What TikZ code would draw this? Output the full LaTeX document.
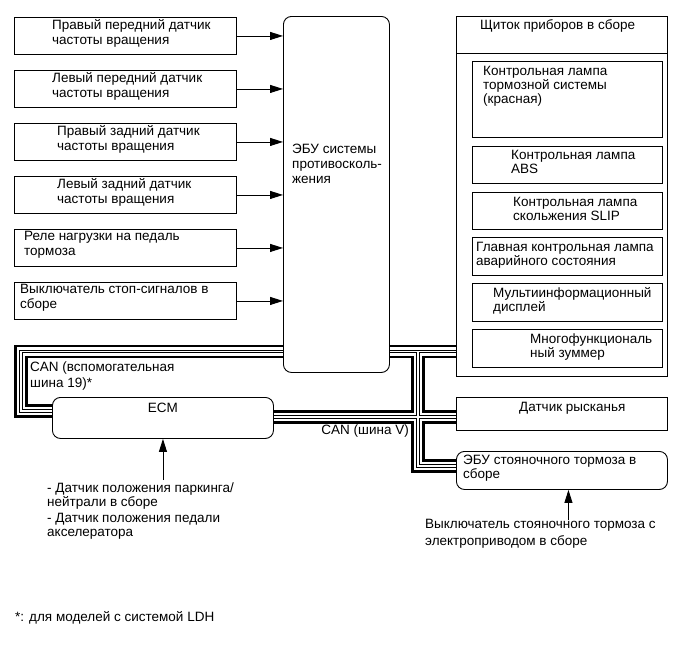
\documentclass[tikz,border=0pt]{standalone}
\usepackage{fontspec}
\setmainfont{Liberation Sans}
\usetikzlibrary{arrows.meta,positioning}

\begin{document}
\begin{tikzpicture}[
      x=1pt, y=-1pt,
      every node/.style={font=\fontsize{13.5}{15}\selectfont},
      box/.style={draw, line width=0.9pt, rectangle, inner sep=0pt, anchor=north west},
      rbox/.style={box, rounded corners=8pt},
      txt/.style={anchor=north west, inner sep=0pt, align=left},
      ctxt/.style={txt, font=\fontsize{13.5}{14}\selectfont},
      sig/.style={line width=0.9pt, -{Triangle[length=13pt,width=8pt]}}
    ]
    \useasboundingbox (0,0) rectangle (689,659);
    % входные датчики и выключатели
    \node[box, minimum width=222pt, minimum height=37pt] (wsfr) at (14,17) {};
    \node[box, minimum width=222pt, minimum height=37pt] (wsfl) at (14,70) {};
    \node[box, minimum width=222pt, minimum height=37pt] (wsrr) at (14,123) {};
    \node[box, minimum width=222pt, minimum height=37pt] (wsrl) at (14,176) {};
    \node[box, minimum width=222pt, minimum height=37pt] (bpr)  at (14,229) {};
    \node[box, minimum width=222pt, minimum height=37pt] (sls)  at (14,282) {};
    \node[txt] (wsfr-t) at ([shift={(38,2.5)}]wsfr.north west) {Правый передний датчик\\частоты вращения};
    \node[txt] (wsfl-t) at ([shift={(38,2.5)}]wsfl.north west) {Левый передний датчик\\частоты вращения};
    \node[txt] (wsrr-t) at ([shift={(43,2.5)}]wsrr.north west) {Правый задний датчик\\частоты вращения};
    \node[txt] (wsrl-t) at ([shift={(43,2.5)}]wsrl.north west) {Левый задний датчик\\частоты вращения};
    \node[txt] (bpr-t)  at ([shift={(10,2.5)}]bpr.north west) {Реле нагрузки на педаль\\тормоза};
    \node[txt] (sls-t)  at ([shift={(6,2.5)}]sls.north west) {Выключатель стоп-сигналов в\\сборе};
    % ЭБУ
    \node[rbox, minimum width=106pt, minimum height=356pt] (ecu) at (283,16) {};
    \node[txt] (ecu-t) at ([shift={(9,127.5)}]ecu.north west) {ЭБУ системы\\противосколь-\\жения};
    \draw[sig] (wsfr.east) -- (wsfr.east -| ecu.west);
    \draw[sig] (wsfl.east) -- (wsfl.east -| ecu.west);
    \draw[sig] (wsrr.east) -- (wsrr.east -| ecu.west);
    \draw[sig] (wsrl.east) -- (wsrl.east -| ecu.west);
    \draw[sig] (bpr.east) -- (bpr.east -| ecu.west);
    \draw[sig] (sls.east) -- (sls.east -| ecu.west);
    % щиток приборов
    \node[box, minimum width=211pt, minimum height=360pt] (cl) at (456,16) {};
    \draw[line width=0.9pt] ([yshift=-37pt]cl.north west) -- ([yshift=-37pt]cl.north east);
    \node[txt] (cl-t) at ([shift={(24,3.5)}]cl.north west) {Щиток приборов в сборе};
    \node[box, minimum width=190pt, minimum height=76pt] (brk)  at (472,61) {};
    \node[box, minimum width=190pt, minimum height=37pt] (abs)  at (472,146) {};
    \node[box, minimum width=190pt, minimum height=37pt] (slip) at (472,192) {};
    \node[box, minimum width=190pt, minimum height=38pt] (mw)   at (472,237) {};
    \node[box, minimum width=190pt, minimum height=38pt] (mid)  at (472,283) {};
    \node[box, minimum width=190pt, minimum height=38pt] (buz)  at (472,329) {};
    \node[ctxt] (brk-t)  at ([shift={(11,5.5)}]brk.north west) {Контрольная лампа\\тормозной системы\\(красная)};
    \node[ctxt] (abs-t)  at ([shift={(39,4.5)}]abs.north west) {Контрольная лампа\\ABS};
    \node[ctxt] (slip-t) at ([shift={(41,5)}]slip.north west) {Контрольная лампа\\скольжения SLIP};
    \node[ctxt] (mw-t)   at ([shift={(4,5)}]mw.north west) {Главная контрольная лампа\\аварийного состояния};
    \node[ctxt] (mid-t)  at ([shift={(21,4.5)}]mid.north west) {Мультиинформационный\\дисплей};
    \node[ctxt] (buz-t)  at ([shift={(58,4.5)}]buz.north west) {Многофункциональ\\ный зуммер};
    % блоки на шине CAN
    \node[box, minimum width=211pt, minimum height=33pt] (yaw) at (456,397) {};
    \node[txt] (yaw-t) at ([shift={(63,5)}]yaw.north west) {Датчик рысканья};
    \node[rbox, minimum width=211pt, minimum height=38pt] (pecu) at (456,451) {};
    \node[ctxt] (pecu-t) at ([shift={(7,3.5)}]pecu.north west) {ЭБУ стояночного тормоза в\\сборе};
    \node[rbox, minimum width=221pt, minimum height=41pt] (ecm) at (52,397) {};
    \node[inner sep=0pt, below=5.5pt of ecm.north] (ecm-t) {ECM};
    % входы ECM и ЭБУ стояночного тормоза
    \node[txt, font=\fontsize{13.5}{13.5}\selectfont] (ecmin) at (47,483) {- Датчик положения паркинга/\\нейтрали в сборе\\[3pt]- Датчик положения педали\\акселератора};
    \draw[sig] ([yshift=3pt]ecm.south |- ecmin.north) -- (ecm.south);
    \node[txt, font=\fontsize{13.5}{17}\selectfont] (psw) at (425,519.5) {Выключатель стояночного тормоза с\\электроприводом в сборе};
    \coordinate (pin) at ([xshift=6.5pt]pecu.south);
    \draw[sig] (pin |- psw.north) -- (pin);
    % шины CAN
    \coordinate (c19a) at (21,351.5);
    \coordinate (c19b) at (21,411);
    \coordinate (jv) at (418,351.5);
    \coordinate (jx) at (418,417);
    \coordinate (jp) at (418,466);
    \foreach \bw/\bc in {13.3/black, 8.3/white, 3.3/black, 1.5/white}
      \draw[line width=\bw pt, draw=\bc, line join=miter]
        (ecu.west |- c19a) -- (c19a) -- (c19b) -- (ecm.west |- c19b)
        (ecu.east |- jv) -- (cl.west |- jv)
        (jv) -- (jp) -- (pecu.west |- jp)
        (ecm.east |- jx) -- (yaw.west |- jx);
    \node[txt, font=\fontsize{13.5}{16}\selectfont] (can19-t) at ([shift={(9,10)}]c19a) {CAN (вспомогательная\\шина 19)*};
    \node[inner sep=0pt, anchor=north east] (canv-t) at ([shift={(-9,7.5)}]jx) {CAN (шина V)};
    % сноска
    \node[txt] (note) at (15,611.5) {*: для моделей с системой LDH};
  \end{tikzpicture}
\end{document}
